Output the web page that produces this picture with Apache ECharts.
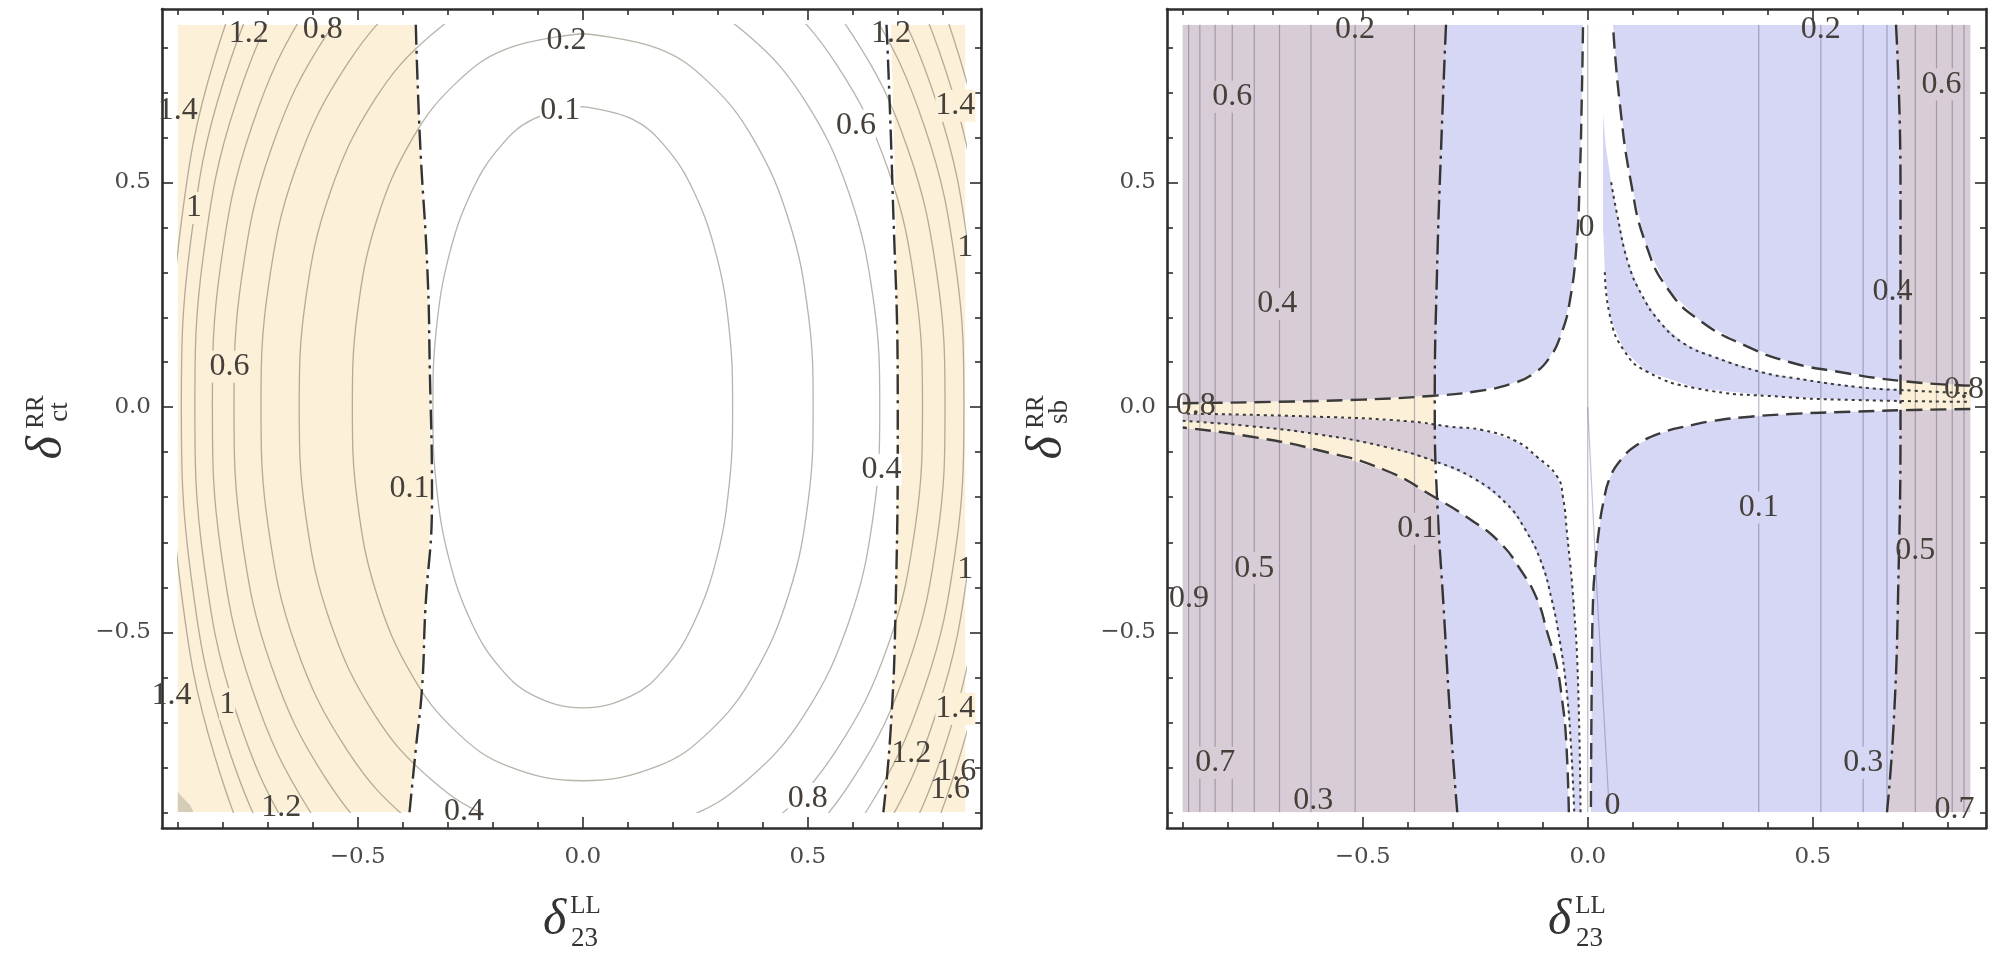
<!DOCTYPE html>
<html><head><meta charset="utf-8">
<script src="https://cdn.jsdelivr.net/npm/echarts@6/dist/echarts.min.js"></script>
<style>html,body{margin:0;padding:0;background:#fff}#c{width:2001px;height:954px}</style>
</head><body><div id="c"></div><script>
// ---------- axis ticks ----------
const MAJOR_TICKS = [-0.5, 0, 0.5];
const MINOR_TICKS = [-0.9,-0.8,-0.7,-0.6,-0.4,-0.3,-0.2,-0.1,0.1,0.2,0.3,0.4,0.6,0.7,0.8];
const FRAME_RANGE = [-0.935, 0.885];
const DATA_RANGE = [-0.9, 0.85];

// ---------- left panel (delta_ct^RR) ----------
const L_TAN_LEFT = [[-0.9,0.85],[-0.371,0.85],[-0.362,0.6],[-0.345,0.3],[-0.34,0.09],[-0.335,-0.2],[-0.35,-0.455],[-0.357,-0.622],[-0.37,-0.75],[-0.385,-0.9],[-0.9,-0.9]];
const L_TAN_RIGHT = [[0.685,0.85],[0.85,0.85],[0.85,-0.9],[0.668,-0.9],[0.684,-0.72],[0.695,-0.455],[0.70,0],[0.694,0.5]];
const L_CORNER = [[-0.9,-0.9],[-0.865,-0.9],[-0.872,-0.885],[-0.9,-0.855]];
const L_BOUND_LEFT = [[-0.371,0.85],[-0.362,0.6],[-0.345,0.3],[-0.34,0.09],[-0.335,-0.2],[-0.35,-0.455],[-0.357,-0.622],[-0.37,-0.75],[-0.385,-0.9]];
const L_BOUND_RIGHT = [[0.675,0.85],[0.688,0.5],[0.70,0.0],[0.695,-0.455],[0.684,-0.72],[0.668,-0.9]];
const L_C01 = [[0,0.668],[0.109,0.641],[0.182,0.581],[0.246,0.481],[0.298,0.334],[0.326,0.167],[0.333,0],[0.326,-0.167],[0.298,-0.334],[0.246,-0.481],[0.182,-0.581],[0.109,-0.641],[0,-0.668],[-0.109,-0.641],[-0.182,-0.581],[-0.246,-0.481],[-0.298,-0.334],[-0.326,-0.167],[-0.333,0],[-0.326,0.167],[-0.298,0.334],[-0.246,0.481],[-0.182,0.581],[-0.109,0.641],[0,0.668]];
const L_C02 = [[0,0.83],[0.168,0.797],[0.28,0.722],[0.378,0.598],[0.458,0.415],[0.501,0.208],[0.512,0],[0.501,-0.208],[0.458,-0.415],[0.378,-0.598],[0.28,-0.722],[0.168,-0.797],[0,-0.83],[-0.168,-0.797],[-0.28,-0.722],[-0.378,-0.598],[-0.458,-0.415],[-0.501,-0.208],[-0.512,0],[-0.501,0.208],[-0.458,0.415],[-0.378,0.598],[-0.28,0.722],[-0.168,0.797],[0,0.83]];
const L_C04 = [[0.015,0.95],[0.227,0.912],[0.367,0.827],[0.492,0.684],[0.592,0.475],[0.646,0.238],[0.66,0],[0.646,-0.238],[0.592,-0.475],[0.492,-0.684],[0.367,-0.827],[0.227,-0.912],[0.015,-0.95],[-0.197,-0.912],[-0.337,-0.827],[-0.462,-0.684],[-0.562,-0.475],[-0.616,-0.238],[-0.63,0],[-0.616,0.238],[-0.562,0.475],[-0.462,0.684],[-0.337,0.827],[-0.197,0.912],[0.015,0.95]];
const L_C06 = [[0.02,1.06],[0.261,1.018],[0.421,0.922],[0.563,0.763],[0.678,0.53],[0.739,0.265],[0.755,0],[0.739,-0.265],[0.678,-0.53],[0.563,-0.763],[0.421,-0.922],[0.261,-1.018],[0.02,-1.06],[-0.221,-1.018],[-0.381,-0.922],[-0.523,-0.763],[-0.638,-0.53],[-0.699,-0.265],[-0.715,0],[-0.699,0.265],[-0.638,0.53],[-0.523,0.763],[-0.381,0.922],[-0.221,1.018],[0.02,1.06]];
const L_C08 = [[0.015,1.15],[0.274,1.104],[0.446,1.0],[0.599,0.828],[0.722,0.575],[0.788,0.288],[0.805,0],[0.788,-0.288],[0.722,-0.575],[0.599,-0.828],[0.446,-1.0],[0.274,-1.104],[0.015,-1.15],[-0.244,-1.104],[-0.416,-1.0],[-0.569,-0.828],[-0.692,-0.575],[-0.758,-0.288],[-0.775,0],[-0.758,0.288],[-0.692,0.575],[-0.569,0.828],[-0.416,1.0],[-0.244,1.104],[0.015,1.15]];
const L_C10 = [[0.012,1.25],[0.286,1.2],[0.468,1.088],[0.629,0.9],[0.759,0.625],[0.829,0.313],[0.847,0],[0.829,-0.313],[0.759,-0.625],[0.629,-0.9],[0.468,-1.088],[0.286,-1.2],[0.012,-1.25],[-0.262,-1.2],[-0.444,-1.088],[-0.605,-0.9],[-0.735,-0.625],[-0.805,-0.313],[-0.823,0],[-0.805,0.313],[-0.735,0.625],[-0.605,0.9],[-0.444,1.088],[-0.262,1.2],[0.012,1.25]];
const L_C12 = [[0.008,1.35],[0.293,1.296],[0.483,1.175],[0.651,0.972],[0.787,0.675],[0.859,0.338],[0.878,0],[0.859,-0.338],[0.787,-0.675],[0.651,-0.972],[0.483,-1.175],[0.293,-1.296],[0.008,-1.35],[-0.277,-1.296],[-0.467,-1.175],[-0.635,-0.972],[-0.771,-0.675],[-0.843,-0.338],[-0.862,0],[-0.843,0.338],[-0.771,0.675],[-0.635,0.972],[-0.467,1.175],[-0.277,1.296],[0.008,1.35]];
const L_C14 = [[0.008,1.45],[0.303,1.392],[0.499,1.262],[0.673,1.044],[0.814,0.725],[0.888,0.363],[0.908,0],[0.888,-0.363],[0.814,-0.725],[0.673,-1.044],[0.499,-1.262],[0.303,-1.392],[0.008,-1.45],[-0.287,-1.392],[-0.483,-1.262],[-0.657,-1.044],[-0.798,-0.725],[-0.872,-0.363],[-0.892,0],[-0.872,0.363],[-0.798,0.725],[-0.657,1.044],[-0.483,1.262],[-0.287,1.392],[0.008,1.45]];
const L_C16 = [[0.01,1.55],[0.313,1.488],[0.515,1.349],[0.694,1.116],[0.838,0.775],[0.915,0.388],[0.935,0],[0.915,-0.388],[0.838,-0.775],[0.694,-1.116],[0.515,-1.349],[0.313,-1.488],[0.01,-1.55],[-0.293,-1.488],[-0.495,-1.349],[-0.674,-1.116],[-0.818,-0.775],[-0.895,-0.388],[-0.915,0],[-0.895,0.388],[-0.818,0.775],[-0.674,1.116],[-0.495,1.349],[-0.293,1.488],[0.01,1.55]];
const L_CONTOURS = [L_C01,L_C02,L_C04,L_C06,L_C08,L_C10,L_C12,L_C14,L_C16];
// label text, x, y, background key
const L_LABELS = [
 ['1.2',-0.742,0.83,''],['0.8',-0.578,0.84,''],['0.2',-0.036,0.815,''],['0.1',-0.05,0.66,'w'],['1.2',0.685,0.83,''],
 ['1.4',-0.9,0.66,''],['1',-0.864,0.443,'t'],['0.6',0.607,0.626,'w'],['1.4',0.828,0.67,'t'],['1',0.85,0.355,''],
 ['0.6',-0.785,0.09,'t'],['0.1',-0.385,-0.18,''],['0.4',0.664,-0.139,'w'],['1',0.85,-0.36,''],
 ['1.4',-0.914,-0.64,''],['1',-0.79,-0.66,'t'],['1.4',0.828,-0.67,'t'],['1.2',0.73,-0.77,''],['1.6',0.83,-0.81,''],['1.6',0.816,-0.85,''],
 ['1.2',-0.67,-0.89,''],['0.4',-0.264,-0.898,''],['0.8',0.5,-0.87,'w']
];

// ---------- right panel (delta_sb^RR) ----------
const R_FULL = [[-0.9,0.85],[0.85,0.85],[0.85,-0.9],[-0.9,-0.9]];
const R_MAUVE_LEFT = [[-0.9,0.85],[-0.315,0.85],[-0.325,0.6],[-0.335,0.3],[-0.34,0.0],[-0.335,-0.2],[-0.32,-0.45],[-0.305,-0.7],[-0.29,-0.9],[-0.9,-0.9]];
const R_MAUVE_RIGHT = [[0.685,0.85],[0.85,0.85],[0.85,-0.9],[0.665,-0.9],[0.68,-0.7],[0.69,-0.4],[0.695,0],[0.695,0.5]];
const R_BOUND_LEFT = [[-0.315,0.85],[-0.325,0.6],[-0.335,0.3],[-0.34,0.0],[-0.335,-0.2],[-0.32,-0.45],[-0.305,-0.7],[-0.29,-0.9]];
const R_BOUND_RIGHT = [[0.685,0.85],[0.695,0.5],[0.695,0],[0.69,-0.4],[0.68,-0.7],[0.665,-0.9]];
const R_STAR_UR = [[0.034,0.85],[0.034,0.7],[0.034,0.55],[0.034,0.4],[0.038,0.3],[0.05,0.2],[0.08,0.127],[0.13,0.08],[0.242,0.042],[0.434,0.023],[0.6,0.016],[0.85,0.012]];
const R_DASH_LR = [[0.85,-0.004],[0.72,-0.006],[0.583,-0.01],[0.45,-0.015],[0.361,-0.021],[0.28,-0.03],[0.234,-0.039],[0.16,-0.058],[0.109,-0.084],[0.075,-0.115],[0.05,-0.155],[0.035,-0.21],[0.024,-0.28],[0.017,-0.35],[0.012,-0.42],[0.009,-0.6],[0.007,-0.9]];
const R_STAR_LL = [[-0.016,-0.9],[-0.022,-0.6],[-0.032,-0.428],[-0.046,-0.28],[-0.055,-0.2],[-0.068,-0.154],[-0.113,-0.11],[-0.16,-0.075],[-0.232,-0.051],[-0.306,-0.043],[-0.4,-0.031],[-0.6,-0.021],[-0.9,-0.014]];
const R_DASH_UL = [[-0.9,0.009],[-0.7,0.012],[-0.5,0.017],[-0.35,0.025],[-0.25,0.035],[-0.17,0.052],[-0.12,0.075],[-0.085,0.11],[-0.06,0.16],[-0.04,0.235],[-0.025,0.36],[-0.018,0.5],[-0.013,0.7],[-0.0105,0.85]];
const R_DOT_UR = [[0.028,0.85],[0.03,0.7],[0.04,0.58],[0.052,0.5],[0.065,0.43],[0.09,0.32],[0.12,0.25],[0.16,0.19],[0.213,0.142],[0.28,0.112],[0.39,0.077],[0.457,0.065],[0.6,0.045],[0.72,0.037],[0.85,0.031]];
const R_DASH_UR = [[0.85,0.048],[0.7,0.058],[0.55,0.08],[0.45,0.1],[0.35,0.137],[0.25,0.192],[0.18,0.26],[0.13,0.36],[0.096,0.5],[0.07,0.686],[0.056,0.85]];
const R_DOT_LL = [[-0.9,-0.03],[-0.75,-0.042],[-0.6,-0.06],[-0.45,-0.088],[-0.34,-0.12],[-0.25,-0.16],[-0.18,-0.215],[-0.14,-0.27],[-0.105,-0.34],[-0.08,-0.428],[-0.062,-0.52],[-0.048,-0.62],[-0.038,-0.74],[-0.03,-0.9]];
const R_DASH_LL = [[-0.042,-0.9],[-0.048,-0.74],[-0.057,-0.65],[-0.07,-0.57],[-0.09,-0.5],[-0.112,-0.428],[-0.15,-0.36],[-0.196,-0.3],[-0.26,-0.25],[-0.34,-0.2],[-0.45,-0.14],[-0.6,-0.095],[-0.75,-0.065],[-0.9,-0.045]];
const R_TAN_STAR_LEFT = [[-0.9,0.009],[-0.7,0.012],[-0.5,0.017],[-0.34,0.026],[-0.34,-0.038],[-0.4,-0.031],[-0.6,-0.021],[-0.9,-0.014]];
const R_TAN_BAND_LEFT = [[-0.9,-0.03],[-0.75,-0.042],[-0.6,-0.06],[-0.45,-0.088],[-0.34,-0.12],[-0.34,-0.2],[-0.45,-0.14],[-0.6,-0.095],[-0.75,-0.065],[-0.9,-0.045]];
const R_TAN_RIGHT = [[0.695,0.059],[0.85,0.048],[0.85,-0.004],[0.695,-0.006]];
const R_VLINES = [-0.887,-0.862,-0.828,-0.79,-0.741,-0.685,-0.615,-0.517,-0.385,0,0.38,0.518,0.612,0.665,0.728,0.775,0.81,0.836];
const R_ZERO_TILT = [[0,0],[0.02,-0.4],[0.048,-0.9]];
const R_LABELS = [
 ['0.2',-0.517,0.84,''],['0.6',-0.79,0.69,'m'],['0.4',-0.69,0.23,'m'],['0.8',-0.871,0.003,''],['0.1',-0.379,-0.27,'m'],
 ['0.5',-0.741,-0.358,'m'],['0.9',-0.886,-0.426,''],['0.7',-0.828,-0.79,'m'],['0.3',-0.61,-0.873,''],
 ['0.1',0.38,-0.223,'l'],['0.2',0.518,0.84,''],['0.3',0.612,-0.79,'l'],['0.4',0.677,0.257,''],['0.5',0.728,-0.318,''],
 ['0.6',0.786,0.717,'m'],['0.7',0.815,-0.893,''],['0.8',0.836,0.04,''],['0',-0.003,0.4,''],['0',0.055,-0.886,'']
];

// ---------- colours ----------
const TAN = '#fcf0d9', MAUVE = '#d8cdd7', LAV = '#d6d6f5', WHITE = '#ffffff';
const BG = {t:TAN, w:WHITE, m:MAUVE, l:LAV};

// ---------- layout ----------
const PANEL_LEFT = [162, 1167];
const TOP = 9, SIZE = 819, PAD = 15.75;
const grids = [], xAxes = [], yAxes = [];
const fmt = v => (v < 0 ? '\u2212' : '') + Math.abs(v).toFixed(1);
function frameAxis(dim, gi, pos, ticks, len, showLine, showLabel) {
  return {type:'value', gridIndex:gi, position:pos, min:FRAME_RANGE[0], max:FRAME_RANGE[1],
    axisLine:{show:showLine, onZero:false, lineStyle:{color:'#2c2c2c', width:2.6}},
    axisTick:{show:true, inside:true, length:len, customValues:ticks, lineStyle:{color:'#2c2c2c', width:1.6}},
    axisLabel:{show:showLabel, customValues:MAJOR_TICKS, formatter:fmt, fontFamily:'DejaVu Serif', fontSize:23, color:'#4a4a4a', margin: dim==='x'?18:11},
    splitLine:{show:false}};
}
PANEL_LEFT.forEach((left, p) => {
  grids.push({left, top:TOP, width:SIZE, height:SIZE});
  grids.push({left, top:TOP, width:SIZE, height:SIZE});
  const gi = p*2;
  xAxes.push(frameAxis('x', gi, 'bottom', MAJOR_TICKS, 11, true, true));
  xAxes.push(frameAxis('x', gi, 'top', MAJOR_TICKS, 11, true, false));
  xAxes.push(frameAxis('x', gi+1, 'bottom', MINOR_TICKS, 6, false, false));
  xAxes.push(frameAxis('x', gi+1, 'top', MINOR_TICKS, 6, false, false));
  yAxes.push(frameAxis('y', gi, 'left', MAJOR_TICKS, 11, true, true));
  yAxes.push(frameAxis('y', gi, 'right', MAJOR_TICKS, 11, true, false));
  yAxes.push(frameAxis('y', gi+1, 'left', MINOR_TICKS, 6, false, false));
  yAxes.push(frameAxis('y', gi+1, 'right', MINOR_TICKS, 6, false, false));
});
PANEL_LEFT.forEach((left, p) => {
  grids.push({left:left+PAD, top:TOP+PAD, width:SIZE-2*PAD, height:SIZE-2*PAD});
  const gi = 4 + p;
  xAxes.push({type:'value', gridIndex:gi, min:DATA_RANGE[0], max:DATA_RANGE[1], show:false});
  yAxes.push({type:'value', gridIndex:gi, min:DATA_RANGE[0], max:DATA_RANGE[1], show:false});
});
const DX = [8, 9]; // data axis indices

function poly(p, pts, color) {
  return {type:'custom', xAxisIndex:DX[p], yAxisIndex:DX[p], silent:true, clip:true, z:2,
    data:[pts[0]], renderItem:(params, api) => ({type:'polygon', shape:{points:pts.map(q => api.coord(q))}, style:{fill:color}})};
}
function line(p, pts, color, width, dash, smooth) {
  return {type:'line', xAxisIndex:DX[p], yAxisIndex:DX[p], data:pts, smooth:smooth===undefined?true:smooth, symbol:'none', silent:true, clip:true, z:2,
    lineStyle:{color, width, type:dash||'solid', cap:'butt'}};
}
function labels(p, arr) {
  return {type:'custom', xAxisIndex:DX[p], yAxisIndex:DX[p], silent:true, clip:false, z:6,
    data:arr.map(a => [a[1], a[2]]),
    renderItem:(params, api) => {
      const a = arr[params.dataIndex]; const c = api.coord([a[1], a[2]]);
      return {type:'text', x:c[0], y:c[1], style:{text:a[0], fontFamily:'Liberation Serif', fontSize:32, fill:'#45413a',
        align:'center', verticalAlign:'middle', backgroundColor:BG[a[3]]||'transparent'}};
    }};
}

const DASHDOT = [20,6,3,6], DASH = [16,8], DOT = [3,4];
const series = [];
// left panel
series.push(poly(0, L_TAN_LEFT, TAN), poly(0, L_TAN_RIGHT, TAN), poly(0, L_CORNER, '#d6cdb8'));
L_CONTOURS.forEach(c => series.push(line(0, c, 'rgba(85,75,55,0.42)', 1.3, 'solid', 0.4)));
series.push(line(0, L_BOUND_LEFT, '#333', 2.4, DASHDOT), line(0, L_BOUND_RIGHT, '#333', 2.4, DASHDOT));
series.push(labels(0, L_LABELS));
// right panel
series.push(poly(1, R_FULL, LAV), poly(1, R_MAUVE_LEFT, MAUVE), poly(1, R_MAUVE_RIGHT, MAUVE));
series.push(poly(1, [...R_STAR_UR, ...R_DASH_LR, ...R_STAR_LL, ...R_DASH_UL], WHITE));
series.push(poly(1, [...R_DOT_UR, ...R_DASH_UR], WHITE));
series.push(poly(1, [...R_DOT_LL, ...R_DASH_LL], WHITE));
series.push(poly(1, R_TAN_STAR_LEFT, TAN), poly(1, R_TAN_BAND_LEFT, TAN), poly(1, R_TAN_RIGHT, TAN));
R_VLINES.forEach(x => series.push(line(1, [[x, DATA_RANGE[0]], [x, DATA_RANGE[1]]], 'rgba(70,70,100,0.38)', 1.2, 'solid', false)));
series.push(line(1, R_ZERO_TILT, 'rgba(80,80,150,0.35)', 1.2, 'solid'));
series.push(line(1, R_BOUND_LEFT, '#333', 2.4, DASHDOT), line(1, R_BOUND_RIGHT, '#333', 2.4, DASHDOT));
series.push(line(1, R_DASH_UR, '#3a3a3a', 2.4, DASH), line(1, R_DASH_UL, '#3a3a3a', 2.4, DASH), line(1, R_DASH_LR, '#3a3a3a', 2.4, DASH), line(1, R_DASH_LL, '#3a3a3a', 2.4, DASH));
series.push(line(1, R_STAR_UR.slice(4), '#3a3a3a', 2, DOT), line(1, R_DOT_UR.slice(3), '#3a3a3a', 2, DOT), line(1, R_STAR_LL, '#3a3a3a', 2, DOT), line(1, R_DOT_LL, '#3a3a3a', 2, DOT));
series.push(labels(1, R_LABELS));

// ---------- axis titles ----------
const TXT = {fontFamily:'Liberation Serif', fill:'#333', align:'center', verticalAlign:'middle'};
function xTitle(cx) {
  return [
    {type:'text', x:cx-17, y:921, style:{...TXT, text:'\u03b4', fontSize:50, fontStyle:'italic'}},
    {type:'text', x:cx+14, y:906, style:{...TXT, text:'LL', fontSize:25}},
    {type:'text', x:cx+13, y:939, style:{...TXT, text:'23', fontSize:27}}
  ];
}
function yTitle(x, sup, sub) {
  return {type:'group', x, y:425, rotation:Math.PI/2, children:[
    {type:'text', x:-23, y:0, style:{...TXT, text:'\u03b4', fontSize:50, fontStyle:'italic'}},
    {type:'text', x:13, y:-12, style:{...TXT, text:sup, fontSize:25}},
    {type:'text', x:13, y:12, style:{...TXT, text:sub, fontSize:27}}
  ]};
}
const graphic = [...xTitle(571.5), ...xTitle(1576.5), yTitle(48, 'RR', 'ct'), yTitle(1048, 'RR', 'sb')];

const chart = echarts.init(document.getElementById('c'), null, {renderer:'canvas'});
chart.setOption({animation:false, backgroundColor:'#fff', grid:grids, xAxis:xAxes, yAxis:yAxes, series, graphic});
</script></body></html>
